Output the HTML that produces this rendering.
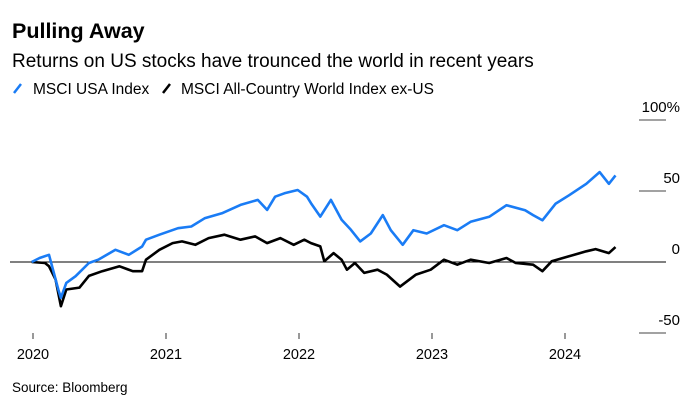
<!DOCTYPE html>
<html><head><meta charset="utf-8"><style>
body{margin:0;background:#fff;width:692px;height:419px;overflow:hidden;font-family:"Liberation Sans",sans-serif}
svg{position:absolute;left:0;top:0}
</style></head><body>
<svg id="c" width="692" height="419">
<text x="12" y="38" font-size="21.5" font-weight="bold" fill="#000">Pulling Away</text>
<text x="12" y="67" font-size="19" fill="#000">Returns on US stocks have trounced the world in recent years</text>
<g>
<line x1="14" y1="93" x2="21" y2="84" stroke="#1a7cf5" stroke-width="2.5"/>
<text x="33" y="94" font-size="15.5">MSCI USA Index</text>
<line x1="163" y1="93" x2="170" y2="84" stroke="#000" stroke-width="2.5"/>
<text x="181" y="94" font-size="15.5">MSCI All-Country World Index ex-US</text>
</g>
<text x="12" y="392" font-size="13.5" fill="#000">Source: Bloomberg</text>
<g id="axes"></g><g id="series"></g>
</svg>
<script>
const yTicks=[100,50,0,-50];
const yTickLabels=["100%","50","0","-50"];
const xTicks=[2020,2021,2022,2023,2024];
const usaDates=[2019.99,2020.05,2020.12,2020.15,2020.19,2020.21,2020.25,2020.32,2020.42,2020.49,2020.62,2020.72,2020.82,2020.85,2020.95,2021.09,2021.19,2021.29,2021.42,2021.56,2021.69,2021.76,2021.82,2021.89,2021.99,2022.06,2022.09,2022.16,2022.24,2022.32,2022.39,2022.46,2022.54,2022.63,2022.69,2022.78,2022.86,2022.96,2023.09,2023.19,2023.29,2023.43,2023.56,2023.70,2023.76,2023.83,2023.93,2024.03,2024.16,2024.26,2024.33,2024.38];
const usaValues=[0,2.8,5.1,-5.4,-19.4,-25.2,-14.7,-10,-0.7,1.6,8.6,5.1,10.9,15.7,19.2,23.8,25,30.8,34.3,40.2,43.7,36.7,46,48.4,50.7,46,41.4,32,43.7,29.7,22.7,14.5,20.1,33,22.4,12.1,22.4,20.1,25.9,22.4,28.3,31.8,40,36.4,33,29.4,41.1,47,55.1,63.3,55.1,61];
const worldDates=[2019.99,2020.09,2020.12,2020.17,2020.21,2020.25,2020.35,2020.42,2020.52,2020.65,2020.75,2020.82,2020.85,2020.95,2021.05,2021.12,2021.22,2021.32,2021.44,2021.56,2021.67,2021.76,2021.86,2021.96,2022.04,2022.09,2022.16,2022.19,2022.26,2022.32,2022.36,2022.42,2022.49,2022.59,2022.66,2022.76,2022.88,2022.99,2023.09,2023.19,2023.29,2023.43,2023.56,2023.63,2023.76,2023.83,2023.90,2024.03,2024.16,2024.23,2024.33,2024.38];
const worldValues=[0,-0.7,-3,-12.4,-31.1,-19.4,-18,-9.8,-6.5,-3,-6.5,-6.5,1.6,8.6,13.3,14.5,12.1,16.8,19.2,15.7,18,13.3,16.8,12.1,15.7,13.3,11,0.5,6.3,1.6,-5.4,-0.7,-7.7,-5.4,-8.9,-17.3,-8.9,-5.4,1.6,-1.9,1.6,-0.7,2.8,-0.7,-1.9,-6.5,0.5,4,7.5,9.1,6.3,10.5];
const NS="http://www.w3.org/2000/svg";
function xs(t){return 33+(t-2020)*133;}
function ys(v){return 262-v*71/50;}
const ax=document.getElementById('axes');
function mk(tag,attrs,parent){const e=document.createElementNS(NS,tag);for(const k in attrs)e.setAttribute(k,attrs[k]);parent.appendChild(e);return e;}
yTicks.forEach((v,i)=>{
  const t=mk('text',{x:680,y:ys(v)-8,'font-size':15,'text-anchor':'end',fill:'#000'},ax);
  t.textContent=yTickLabels[i];
  
  
  if(v!==0){const g=mk('line',{x1:639,x2:666,y1:ys(v),y2:ys(v),stroke:'#444','stroke-width':1},ax);
  
  }
});
const z=mk('line',{x1:10,x2:666,y1:ys(0),y2:ys(0),stroke:'#000','stroke-width':1},ax);


xTicks.forEach(y=>{
  const l=mk('line',{x1:xs(y),x2:xs(y),y1:333,y2:339,stroke:'#333','stroke-width':1},ax);
  
  
  const t=mk('text',{x:xs(y),y:359,'font-size':14.5,'text-anchor':'middle',fill:'#000'},ax);
  t.textContent=y;
  
  
});
const sg=document.getElementById('series');
function line(d,v,col,name){
  const p=d.map((t,i)=>(i?'L':'M')+xs(t).toFixed(1)+','+ys(v[i]).toFixed(1)).join('');
  const e=mk('path',{d:p,fill:'none',stroke:col,'stroke-width':2.6,'stroke-linejoin':'round'},sg);
  
  
}
line(worldDates,worldValues,'#000','world-ex-us-line');
line(usaDates,usaValues,'#1a7cf5','usa-line');
</script>
</body></html>
